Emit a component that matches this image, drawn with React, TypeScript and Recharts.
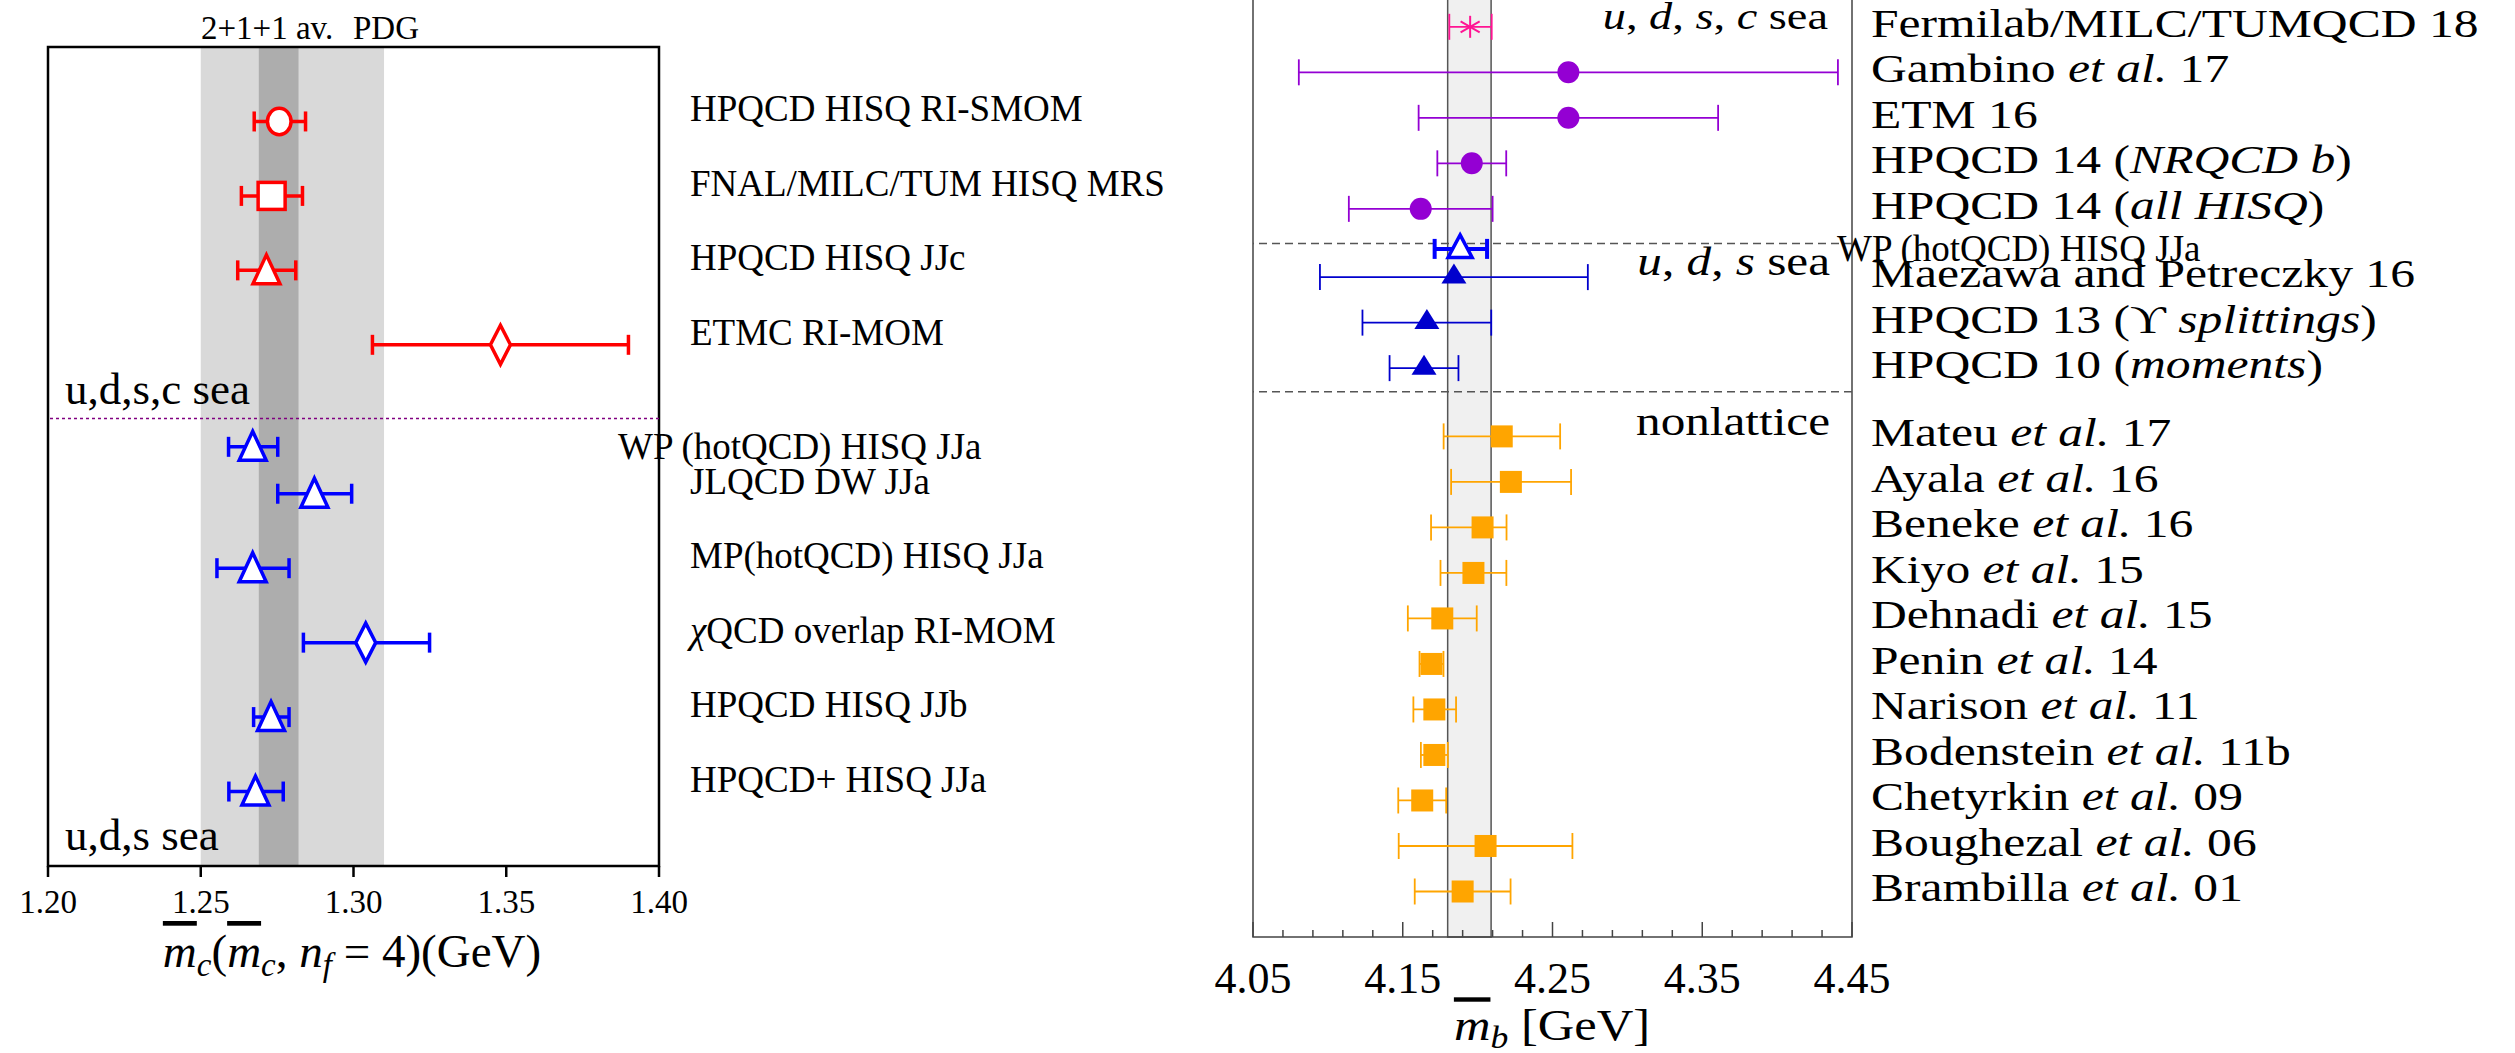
import React from 'react';
import {
  ComposedChart,
  Scatter,
  XAxis,
  YAxis,
  ErrorBar,
  ReferenceArea,
  ReferenceLine,
} from 'recharts';

const SERIF = '"Liberation Serif", "Times New Roman", serif';
const WP_LABEL = 'WP (hotQCD) HISQ JJa';

// ---- charm panel (left) ----
const charmLabels = [
  'HPQCD HISQ RI-SMOM',
  'FNAL/MILC/TUM HISQ MRS',
  'HPQCD HISQ JJc',
  'ETMC RI-MOM',
  WP_LABEL,
  'JLQCD DW JJa',
  'MP(hotQCD) HISQ JJa',
  '_χ_QCD overlap RI-MOM',
  'HPQCD HISQ JJb',
  'HPQCD+ HISQ JJa',
];
const charmRows = [0, 1, 2, 3, 4.37, 5, 6, 7, 8, 9];
const charmMass = [1.2757, 1.2732, 1.2715, 1.3481, 1.267, 1.2872, 1.267, 1.304, 1.273, 1.2679];
const charmErrLow = [0.0082, 0.0099, 0.0094, 0.0419, 0.0079, 0.012, 0.0117, 0.0204, 0.0057, 0.0087];
const charmErrHigh = [0.0086, 0.0101, 0.0096, 0.0419, 0.0082, 0.0122, 0.0119, 0.0209, 0.0059, 0.0091];
const charmMarker = ['circle', 'square', 'triangle', 'diamond', 'triangle', 'triangle', 'triangle', 'diamond', 'triangle', 'triangle'];
const charmSea = ['udsc', 'udsc', 'udsc', 'udsc', 'uds', 'uds', 'uds', 'uds', 'uds', 'uds'];
const charmTicks = [1.2, 1.25, 1.3, 1.35, 1.4];
const charmAverage = [1.269, 1.282];
const charmPdg = [1.25, 1.31];
const charmSeaLine = 3.99;

// ---- bottom panel (right) ----
const bottomLabels = [
  'Fermilab/MILC/TUMQCD 18',
  'Gambino _et al._ 17',
  'ETM 16',
  'HPQCD 14 (_NRQCD b_)',
  'HPQCD 14 (_all HISQ_)',
  WP_LABEL,
  'Maezawa and Petreczky 16',
  'HPQCD 13 (ϒ _splittings_)',
  'HPQCD 10 (_moments_)',
  'Mateu _et al._ 17',
  'Ayala _et al._ 16',
  'Beneke _et al._ 16',
  'Kiyo _et al._ 15',
  'Dehnadi _et al._ 15',
  'Penin _et al._ 14',
  'Narison _et al._ 11',
  'Bodenstein _et al._ 11b',
  'Chetyrkin _et al._ 09',
  'Boughezal _et al._ 06',
  'Brambilla _et al._ 01',
];
const bottomRows = [0, 1, 2, 3, 4, 4.88, 5.5, 6.5, 7.5, 9, 10, 11, 12, 13, 14, 15, 16, 17, 18, 19];
const bottomMass = [
  4.195, 4.2606, 4.2606, 4.1961, 4.162, 4.1883, 4.1842, 4.1661, 4.1642, 4.2161,
  4.2222, 4.2033, 4.1972, 4.1764, 4.1692, 4.1711, 4.1711, 4.163, 4.2053, 4.19,
];
const bottomErrLow = [
  0.0139, 0.18, 0.1, 0.023, 0.048, 0.017, 0.0895, 0.043, 0.023, 0.0388,
  0.0399, 0.0344, 0.022, 0.023, 0.008, 0.014, 0.009, 0.016, 0.058, 0.032,
];
const bottomErrHigh = [
  0.0144, 0.18, 0.1, 0.023, 0.048, 0.018, 0.0894, 0.043, 0.023, 0.039,
  0.0402, 0.016, 0.022, 0.023, 0.008, 0.0145, 0.009, 0.016, 0.058, 0.032,
];
const bottomGroup = [
  'fmt', 'udsc', 'udsc', 'udsc', 'udsc', 'wp', 'uds', 'uds', 'uds',
  'non', 'non', 'non', 'non', 'non', 'non', 'non', 'non', 'non', 'non', 'non',
];
const bottomTicks = [
  4.05, 4.07, 4.09, 4.11, 4.13, 4.15, 4.17, 4.19, 4.21, 4.23, 4.25,
  4.27, 4.29, 4.31, 4.33, 4.35, 4.37, 4.39, 4.41, 4.43, 4.45,
];
const bottomMajorTicks = [4.05, 4.15, 4.25, 4.35, 4.45];
const bottomPdg = [4.18, 4.209];
const bottomSeaLines = [4.76, 8.02];

const charmPoints = charmMass.map((m, i) => ({
  x: m,
  y: charmRows[i],
  err: [charmErrLow[i], charmErrHigh[i]],
  marker: charmMarker[i],
  sea: charmSea[i],
}));

const bottomPoints = bottomMass.map((m, i) => ({
  x: m,
  y: bottomRows[i],
  err: [bottomErrLow[i], bottomErrHigh[i]],
  group: bottomGroup[i],
}));

const groupColor: Record<string, string> = {
  fmt: '#ff1493',
  udsc: '#9400d3',
  wp: '#0000ff',
  uds: '#0000cd',
  non: '#ffa500',
};

// text between underscores is set in italics
function italicParts(label: string) {
  return label.split('_').map((part, i) => (
    <tspan key={i} fontStyle={i % 2 === 1 ? 'italic' : 'normal'}>
      {part}
    </tspan>
  ));
}

const charmShape = (kind: string, color: string) => (props: any) => {
  const { cx, cy } = props;
  const st = { fill: '#fff', stroke: color, strokeWidth: 3.5 };
  if (kind === 'circle') return <ellipse cx={cx} cy={cy} rx={11.8} ry={13.2} {...st} />;
  if (kind === 'square') return <rect x={cx - 13.5} y={cy - 13.5} width={27} height={27} {...st} />;
  if (kind === 'diamond')
    return <polygon points={`${cx},${cy - 19.5} ${cx + 10},${cy} ${cx},${cy + 19.5} ${cx - 10},${cy}`} {...st} />;
  return <polygon points={`${cx},${cy - 15.5} ${cx + 13.5},${cy + 13.5} ${cx - 13.5},${cy + 13.5}`} {...st} />;
};

const bottomShape = (group: string) => (props: any) => {
  const { cx, cy } = props;
  const c = groupColor[group];
  if (group === 'fmt') {
    const r = 11;
    const dx = r * Math.cos(Math.PI / 6);
    const dy = r * Math.sin(Math.PI / 6);
    return (
      <g stroke={c} strokeWidth={2}>
        <line x1={cx} y1={cy - r} x2={cx} y2={cy + r} />
        <line x1={cx - dx} y1={cy - dy} x2={cx + dx} y2={cy + dy} />
        <line x1={cx - dx} y1={cy + dy} x2={cx + dx} y2={cy - dy} />
      </g>
    );
  }
  if (group === 'udsc') return <circle cx={cx} cy={cy} r={11} fill={c} />;
  if (group === 'wp')
    return (
      <polygon
        points={`${cx},${cy - 14} ${cx + 12},${cy + 8.5} ${cx - 12},${cy + 8.5}`}
        fill="#fff"
        stroke={c}
        strokeWidth={3.5}
      />
    );
  if (group === 'uds')
    return <polygon points={`${cx},${cy - 13.5} ${cx + 12.5},${cy + 6.5} ${cx - 12.5},${cy + 6.5}`} fill={c} />;
  return <rect x={cx - 11} y={cy - 11} width={22} height={22} fill={c} />;
};

const CharmLabelTick = (props: any) => {
  const { x, y, payload } = props;
  const label = charmLabels[charmRows.indexOf(payload.value)];
  const isWp = label === WP_LABEL;
  return (
    <text
      x={x + (isWp ? -41 : 31)}
      y={y + (isWp ? 12 : 0)}
      fontFamily={SERIF}
      fontSize={37}
      fill="#000"
      style={{ whiteSpace: 'pre' }}
    >
      {italicParts(label)}
    </text>
  );
};

const CharmXTick = (props: any) => {
  const { x, y, payload } = props;
  return (
    <g>
      <line x1={x} y1={y} x2={x} y2={y + 11} stroke="#000" strokeWidth={2.5} />
      <text x={x} y={y + 47} textAnchor="middle" fontFamily={SERIF} fontSize={33} fill="#000">
        {payload.value.toFixed(2)}
      </text>
    </g>
  );
};

const BottomLabelTick = (props: any) => {
  const { x, y, payload } = props;
  const label = bottomLabels[bottomRows.indexOf(payload.value)];
  if (label === WP_LABEL)
    return (
      <text x={x - 15} y={y + 12} fontFamily={SERIF} fontSize={37} fill="#000">
        {label}
      </text>
    );
  return (
    <text
      transform={`translate(${x + 19},${y + 10}) scale(1.21,1)`}
      fontFamily={SERIF}
      fontSize={41}
      fill="#000"
      style={{ whiteSpace: 'pre' }}
    >
      {italicParts(label)}
    </text>
  );
};

const BottomXTick = (props: any) => {
  const { x, y, payload } = props;
  const major = bottomMajorTicks.includes(payload.value);
  return (
    <g>
      <line x1={x} y1={y} x2={x} y2={y - (major ? 15 : 7)} stroke="#444" strokeWidth={1.5} />
      {major && (
        <text x={x} y={y + 56} textAnchor="middle" fontFamily={SERIF} fontSize={44} fill="#000">
          {payload.value.toFixed(2)}
        </text>
      )}
    </g>
  );
};

function CharmChart() {
  return (
    <div style={{ position: 'absolute', left: 0, top: 0 }}>
      <ComposedChart width={1240} height={1053} margin={{ top: 47, left: 48, right: 81, bottom: 127 }}>
        <XAxis
          type="number"
          dataKey="x"
          domain={[1.2, 1.4]}
          allowDataOverflow
          ticks={charmTicks}
          interval={0}
          height={60}
          tickSize={0}
          tickMargin={0}
          axisLine={false}
          tickLine={false}
          tick={<CharmXTick />}
        />
        <YAxis
          type="number"
          dataKey="y"
          orientation="right"
          domain={[-1, 10]}
          reversed
          allowDataOverflow
          ticks={charmRows}
          interval={0}
          width={500}
          tickSize={0}
          tickMargin={0}
          axisLine={false}
          tickLine={false}
          tick={<CharmLabelTick />}
        />
        <ReferenceArea x1={charmPdg[0]} x2={charmPdg[1]} fill="#d9d9d9" fillOpacity={1} stroke="none" />
        <ReferenceArea x1={charmAverage[0]} x2={charmAverage[1]} fill="#adadad" fillOpacity={1} stroke="none" />
        <ReferenceLine y={charmSeaLine} stroke="#800080" strokeWidth={1.5} strokeDasharray="3 3" />
        <ReferenceArea x1={1.2} x2={1.4} y1={-1} y2={10} fill="none" stroke="#000" strokeWidth={2.5} />
        {charmPoints.map((p, i) => {
          const color = p.sea === 'udsc' ? '#ff0000' : '#0000ff';
          return (
            <Scatter key={i} data={[p]} isAnimationActive={false} shape={charmShape(p.marker, color)}>
              <ErrorBar dataKey="err" direction="x" width={10} stroke={color} strokeWidth={3.5} isAnimationActive={false} />
            </Scatter>
          );
        })}
      </ComposedChart>
    </div>
  );
}

function BottomChart() {
  return (
    <div style={{ position: 'absolute', left: 1150, top: -40 }}>
      <ComposedChart width={1365} height={1093} margin={{ top: 21.3, left: 103, right: 63, bottom: 56 }}>
        <XAxis
          type="number"
          dataKey="x"
          domain={[4.05, 4.45]}
          allowDataOverflow
          ticks={bottomTicks}
          interval={0}
          height={60}
          tickSize={0}
          tickMargin={0}
          axisLine={false}
          tickLine={false}
          tick={<BottomXTick />}
        />
        <YAxis
          type="number"
          dataKey="y"
          orientation="right"
          domain={[-1, 20]}
          reversed
          allowDataOverflow
          ticks={bottomRows}
          interval={0}
          width={600}
          tickSize={0}
          tickMargin={0}
          axisLine={false}
          tickLine={false}
          tick={<BottomLabelTick />}
        />
        <ReferenceArea x1={bottomPdg[0]} x2={bottomPdg[1]} fill="#f0f0f0" fillOpacity={1} stroke="#555" strokeWidth={1.5} />
        {bottomSeaLines.map((v) => (
          <ReferenceLine key={v} y={v} stroke="#555" strokeWidth={1.5} strokeDasharray="8 5" />
        ))}
        <ReferenceArea x1={4.05} x2={4.45} y1={-1} y2={20} fill="none" stroke="#444" strokeWidth={1.5} />
        {bottomPoints.map((p, i) => {
          const color = groupColor[p.group];
          const wp = p.group === 'wp';
          return (
            <Scatter key={i} data={[p]} isAnimationActive={false} shape={bottomShape(p.group)}>
              <ErrorBar
                dataKey="err"
                direction="x"
                width={wp ? 10 : 13}
                stroke={color}
                strokeWidth={wp ? 4 : 1.8}
                isAnimationActive={false}
              />
            </Scatter>
          );
        })}
      </ComposedChart>
    </div>
  );
}

function Annotations() {
  const over = { textDecoration: 'overline' } as React.CSSProperties;
  return (
    <svg
      width={2515}
      height={1053}
      style={{ position: 'absolute', left: 0, top: 0, pointerEvents: 'none' }}
    >
      <g fontFamily={SERIF} fill="#000">
        <text x={201} y={39} fontSize={33}>2+1+1 av.</text>
        <text x={353} y={39} fontSize={33}>PDG</text>
        <text x={65} y={404} fontSize={45}>u,d,s,c sea</text>
        <text x={65} y={850} fontSize={45}>u,d,s sea</text>
        <text x={352} y={967} fontSize={47} textAnchor="middle" style={{ whiteSpace: 'pre' }}>
          <tspan fontStyle="italic" style={over}>m</tspan>
          <tspan fontStyle="italic" fontSize={33} dy={9}>c</tspan>
          <tspan dy={-9}>(</tspan>
          <tspan fontStyle="italic" style={over}>m</tspan>
          <tspan fontStyle="italic" fontSize={33} dy={9}>c</tspan>
          <tspan dy={-9}>, </tspan>
          <tspan fontStyle="italic">n</tspan>
          <tspan fontStyle="italic" fontSize={33} dy={9}>f</tspan>
          <tspan dy={-9}> = 4)(GeV)</tspan>
        </text>

        <text transform="translate(1828,29) scale(1.22,1)" fontSize={38} textAnchor="end" style={{ whiteSpace: 'pre' }}>
          <tspan fontStyle="italic">u</tspan>, <tspan fontStyle="italic">d</tspan>, <tspan fontStyle="italic">s</tspan>,{' '}
          <tspan fontStyle="italic">c</tspan> sea
        </text>
        <text transform="translate(1830,275) scale(1.2,1)" fontSize={41} textAnchor="end" style={{ whiteSpace: 'pre' }}>
          <tspan fontStyle="italic">u</tspan>, <tspan fontStyle="italic">d</tspan>, <tspan fontStyle="italic">s</tspan> sea
        </text>
        <text transform="translate(1830,435) scale(1.2,1)" fontSize={41} textAnchor="end">
          nonlattice
        </text>
        <text transform="translate(1552,1040) scale(1.15,1)" fontSize={44} textAnchor="middle" style={{ whiteSpace: 'pre' }}>
          <tspan fontStyle="italic" style={over}>m</tspan>
          <tspan fontStyle="italic" fontSize={31} dy={8}>b</tspan>
          <tspan dy={-8}> [GeV]</tspan>
        </text>
      </g>
    </svg>
  );
}

export default function App() {
  return (
    <div style={{ position: 'absolute', left: 0, top: 0, width: 2515, height: 1053, overflow: 'hidden', background: '#fff' }}>
      <CharmChart />
      <BottomChart />
      <Annotations />
    </div>
  );
}
